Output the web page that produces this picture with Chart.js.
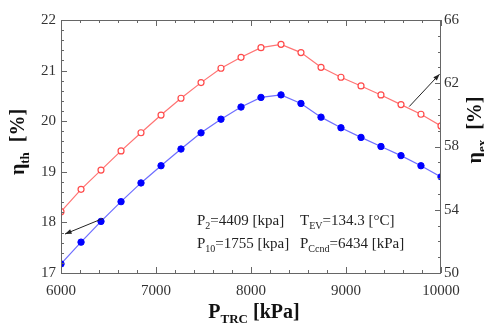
<!DOCTYPE html>
<html>
<head>
<meta charset="utf-8">
<script src="https://cdn.jsdelivr.net/npm/chart.js@4.4.1/dist/chart.umd.min.js"></script>
<style>
  html, body { margin: 0; padding: 0; background: #fff; }
  #wrap { width: 484px; height: 325px; }
</style>
</head>
<body>
<div id="wrap"><canvas id="chart"></canvas></div>
<script>
// P_TRC [kPa]
const pressure = [6000, 6211, 6421, 6632, 6842, 7053, 7263, 7474, 7684, 7895,
                  8105, 8316, 8526, 8737, 8947, 9158, 9368, 9579, 9789, 10000];
// eta_th [%] (left axis, blue filled)
const etaTh = [17.18, 17.61, 18.02, 18.41, 18.78, 19.12, 19.45, 19.77, 20.04, 20.28,
               20.47, 20.52, 20.35, 20.08, 19.87, 19.68, 19.50, 19.32, 19.12, 18.90];
// eta_ex [%] (right axis, red hollow)
const etaEx = [53.88, 55.29, 56.51, 57.72, 58.87, 59.99, 61.05, 62.04, 62.95, 63.64,
               64.25, 64.46, 63.94, 63.01, 62.38, 61.83, 61.26, 60.65, 60.04, 59.30];

const xTickLabels = [6000, 7000, 8000, 9000, 10000];
const leftTickLabels = [17, 18, 19, 20, 21, 22];
const rightTickLabels = [50, 54, 58, 62, 66];

// arrows in data coords (x, left-axis y)
const arrowTh = [[6444, 18.08], [6042, 17.77]];
const arrowEx = [[9666, 20.29], [9985, 20.93]];

const serif = "'Liberation Serif', 'DejaVu Serif', serif";

function pts(ys) {
  return pressure.map((x, i) => ({x, y: ys[i]}));
}

function isNear(v, list) {
  return list.some(t => Math.abs(t - v) < 1e-6);
}

function drawParts(ctx, parts, x, y, size, align) {
  let w = 0;
  parts.forEach(([t, sub]) => {
    ctx.font = (sub ? Math.round(size * 0.65) : size) + "px " + serif;
    w += ctx.measureText(t).width;
  });
  let cx = align === "center" ? x - w / 2 : x;
  parts.forEach(([t, sub]) => {
    ctx.font = (sub ? Math.round(size * 0.65) : size) + "px " + serif;
    ctx.fillText(t, cx, sub ? y + size * 0.25 : y);
    cx += ctx.measureText(t).width;
  });
}

function drawBoldParts(ctx, parts, x, y, size) {
  let w = 0;
  const f = (sub) => "bold " + (sub ? Math.round(size * 0.65) : size) + "px " + serif;
  parts.forEach(([t, sub]) => { ctx.font = f(sub); w += ctx.measureText(t).width; });
  let cx = x - w / 2;
  parts.forEach(([t, sub]) => {
    ctx.font = f(sub);
    ctx.fillText(t, cx, sub ? y + size * 0.25 : y);
    cx += ctx.measureText(t).width;
  });
}

function arrow(ctx, x1, y1, x2, y2) {
  ctx.beginPath();
  ctx.moveTo(x1, y1);
  ctx.lineTo(x2, y2);
  ctx.stroke();
  let a = Math.atan2(y2 - y1, x2 - x1);
  ctx.beginPath();
  ctx.moveTo(x2, y2);
  ctx.lineTo(x2 - 7 * Math.cos(a - 0.35), y2 - 7 * Math.sin(a - 0.35));
  ctx.lineTo(x2 - 7 * Math.cos(a + 0.35), y2 - 7 * Math.sin(a + 0.35));
  ctx.closePath();
  ctx.fill();
}

const framePlugin = {
  id: "frame",
  afterDraw(chart) {
    const ctx = chart.ctx;
    const {left, right, top, bottom} = chart.chartArea;
    const sx = chart.scales.x, sy = chart.scales.y, sy1 = chart.scales.y1;
    ctx.save();
    ctx.strokeStyle = "#666";
    ctx.lineWidth = 1;
    ctx.strokeRect(left + 0.5, top + 0.5, right - left - 1, bottom - top);

    ctx.beginPath();
    sx.ticks.forEach(t => {
      let p = Math.round(sx.getPixelForValue(t.value)) + 0.5;
      let len = isNear(t.value, xTickLabels) ? 6 : 3;
      ctx.moveTo(p, bottom); ctx.lineTo(p, bottom - len);
      ctx.moveTo(p, top); ctx.lineTo(p, top + len);
    });
    sy.ticks.forEach(t => {
      let p = Math.round(sy.getPixelForValue(t.value)) + 0.5;
      let len = isNear(t.value, leftTickLabels) ? 6 : 3;
      ctx.moveTo(left, p); ctx.lineTo(left + len, p);
    });
    sy1.ticks.forEach(t => {
      let p = Math.round(sy1.getPixelForValue(t.value)) + 0.5;
      let len = isNear(t.value, rightTickLabels) ? 6 : 3;
      ctx.moveTo(right, p); ctx.lineTo(right - len, p);
    });
    ctx.stroke();

    // arrows
    ctx.strokeStyle = "#222";
    ctx.fillStyle = "#222";
    [arrowTh, arrowEx].forEach(([a, b]) => {
      arrow(ctx, sx.getPixelForValue(a[0]), sy.getPixelForValue(a[1]),
                 sx.getPixelForValue(b[0]), sy.getPixelForValue(b[1]));
    });

    // annotation
    ctx.fillStyle = "#222";
    ctx.textBaseline = "alphabetic";
    drawParts(ctx, [["P", 0], ["2", 1], ["=4409 [kpa]", 0]], 197, 225, 15);
    drawParts(ctx, [["P", 0], ["10", 1], ["=1755 [kpa]", 0]], 197, 248, 15);
    drawParts(ctx, [["T", 0], ["EV", 1], ["=134.3 [\u00B0C]", 0]], 300, 225, 15);
    drawParts(ctx, [["P", 0], ["Ccnd", 1], ["=6434 [kPa]", 0]], 300, 248, 15);

    // axis titles
    ctx.fillStyle = "#111";
    drawBoldParts(ctx, [["P", 0], ["TRC", 1], [" [kPa]", 0]], 254, 318, 20);
    ctx.save();
    ctx.translate(24, 142);
    ctx.rotate(-Math.PI / 2);
    drawBoldParts(ctx, [["\u03B7", 0], ["th", 1], ["  [%]", 0]], 0, 0, 20);
    ctx.restore();
    ctx.save();
    ctx.translate(481, 130);
    ctx.rotate(-Math.PI / 2);
    drawBoldParts(ctx, [["\u03B7", 0], ["ex", 1], ["  [%]", 0]], 0, 0, 20);
    ctx.restore();
    ctx.restore();
  }
};

const tickFont = {family: serif, size: 15};

new Chart(document.getElementById("chart"), {
  type: "line",
  data: {
    datasets: [{
      label: "eta_th",
      data: pts(etaTh),
      yAxisID: "y",
      borderColor: "#6e6eff",
      borderWidth: 1.2,
      pointBackgroundColor: "#0000ff",
      pointBorderColor: "#0000ff",
      pointRadius: 3.2,
      pointBorderWidth: 1,
      tension: 0
    }, {
      label: "eta_ex",
      data: pts(etaEx),
      yAxisID: "y1",
      borderColor: "#ff7474",
      borderWidth: 1.2,
      pointBackgroundColor: "#ffffff",
      pointBorderColor: "#ff4a4a",
      pointRadius: 3,
      pointBorderWidth: 1.2,
      tension: 0
    }]
  },
  options: {
    responsive: true,
    maintainAspectRatio: false,
    animation: false,
    devicePixelRatio: 1,
    layout: {padding: {top: 20, left: 0, right: 0, bottom: 0}},
    plugins: {legend: {display: false}, tooltip: {enabled: false}},
    scales: {
      x: {
        type: "linear",
        min: 6000, max: 10000,
        afterFit: s => { s.height = 52; },
        grid: {display: false, drawTicks: false},
        border: {display: false},
        ticks: {
          stepSize: 200, autoSkip: false, maxRotation: 0, padding: 9,
          font: tickFont, color: "#333",
          callback: v => isNear(v, xTickLabels) ? String(v) : ""
        }
      },
      y: {
        position: "left",
        min: 17, max: 22,
        afterFit: s => { s.width = 61; },
        grid: {display: false, drawTicks: false},
        border: {display: false},
        ticks: {
          stepSize: 0.2, autoSkip: false, padding: 5,
          font: tickFont, color: "#333",
          callback: v => isNear(v, leftTickLabels) ? String(Math.round(v)) : ""
        }
      },
      y1: {
        position: "right",
        min: 50, max: 66,
        afterFit: s => { s.width = 43; },
        grid: {display: false, drawTicks: false},
        border: {display: false},
        ticks: {
          stepSize: 1, autoSkip: false, padding: 3,
          font: tickFont, color: "#333",
          callback: v => isNear(v, rightTickLabels) ? String(v) : ""
        }
      }
    }
  },
  plugins: [framePlugin]
});
</script>
</body>
</html>
